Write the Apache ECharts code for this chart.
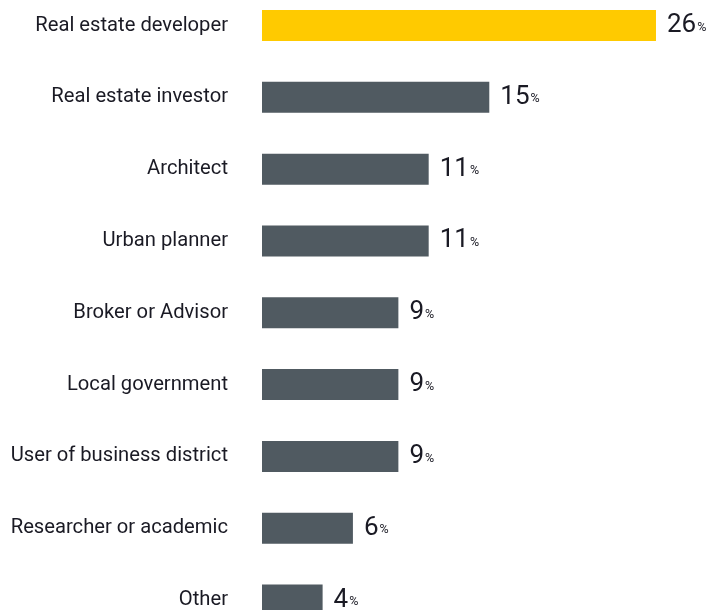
<!DOCTYPE html>
<html><head><meta charset="utf-8">
<script src="https://cdn.jsdelivr.net/npm/echarts@6/dist/echarts.min.js"></script>
<style>html,body{margin:0;padding:0;background:#fff}#c{width:723px;height:610px}</style>
</head><body><div id="c"></div>
<script>
const categories = ["Real estate developer","Real estate investor","Architect","Urban planner","Broker or Advisor","Local government","User of business district","Researcher or academic","Other"];
const values = [26,15,11,11,9,9,9,6,4];
const highlightIndex = 0;

const chart = echarts.init(document.getElementById('c'), null, {renderer:'canvas'});
chart.setOption({
  animation:false,
  grid:{left:262, top:25.5, width:454.6, height:575, containLabel:false},
  xAxis:{type:'value', min:0, max:30, show:false},
  yAxis:{type:'category', data:categories, inverse:true, boundaryGap:false,
    axisLine:{show:false}, axisTick:{show:false}, splitLine:{show:false},
    axisLabel:{margin:34, color:'#1a1a24', fontSize:20.2, fontFamily:'Roboto'}},
  series:[{
    type:'bar', barWidth:31, clip:false,
    data: values.map((v,i)=>({value:v, itemStyle:{color: i===highlightIndex ? '#ffca00' : '#505a61'}})),
    label:{show:true, position:'right', distance:11,
      formatter: p => '{a|' + p.value + '}{b|%}',
      rich:{
        a:{fontSize:26, fontFamily:'Roboto', color:'#1a1a24', verticalAlign:'middle', lineHeight:26},
        b:{fontSize:12.5, fontFamily:'Roboto', color:'#1a1a24', verticalAlign:'middle', lineHeight:26, padding:[4,0,0,1]}
      }}
  }]
});
</script></body></html>
